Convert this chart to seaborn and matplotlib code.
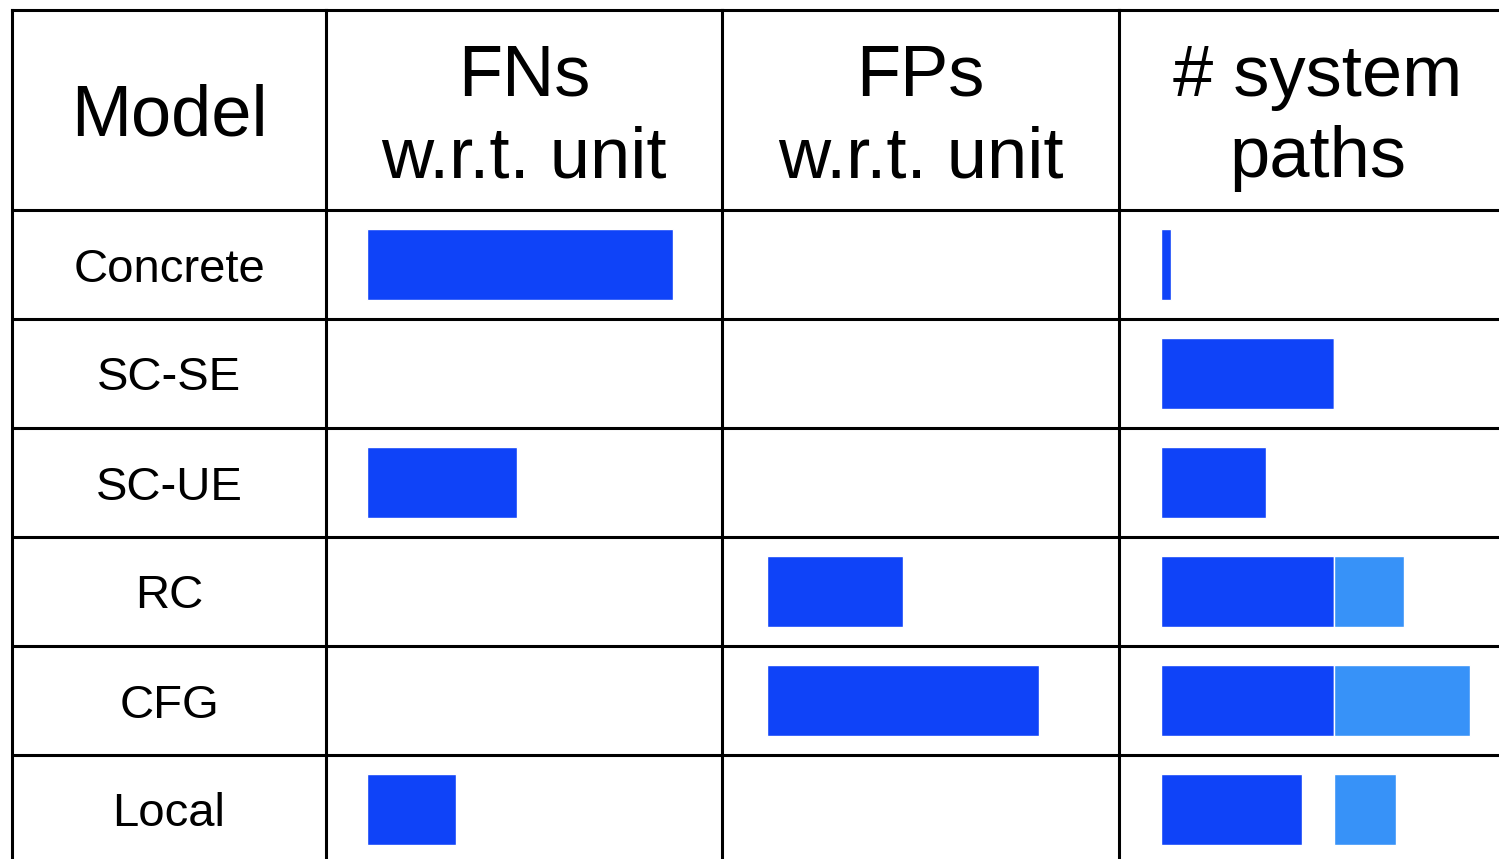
import numpy as np
import pandas as pd
import matplotlib
matplotlib.use("Agg")
import matplotlib.pyplot as plt
import seaborn as sns

# table data
models = ["Concrete", "SC-SE", "SC-UE", "RC", "CFG", "Local"]
fns = [100, 0, 49, 0, 0, 29]
fps = [0, 0, 0, 50, 100, 0]
paths_main = [6, 100, 61, 100, 100, 82]
paths_extra = [0, 0, 0, 41, 79, 36]
extra_start = 100
headers = ["Model", "FNs\nw.r.t. unit", "FPs\nw.r.t. unit", "# system\npaths"]

dark = "#0f43f8"
light = "#3792f8"
lw = 2.2

sns.set_theme(style="white")
plt.rcParams["font.family"] = ["Liberation Sans", "DejaVu Sans"]
plt.rcParams["text.color"] = "black"

df = pd.DataFrame({"model": models, "fns": fns, "fps": fps,
                   "main": paths_main, "extra": paths_extra})

W, H = 1499, 859
fig = plt.figure(figsize=(W / 100, H / 100), dpi=100)
fig.patch.set_facecolor("white")

bottom = (H - 864) / H
height = 854 / H
cols = [(12, 314), (326, 396), (722, 397), (1119, 397)]
axes = [fig.add_axes([x / W, bottom, w / W, height]) for x, w in cols]

ytop = -0.5 - 200 / 109

# model column
ax0 = axes[0]
ax0.set_xlim(0, 1)
for i, m in enumerate(models):
    ax0.text(0.5, i, m, ha="center", va="center_baseline", fontsize=34)

# metric columns
sns.barplot(data=df, x="fns", y="model", orient="h", color=dark,
            saturation=1, width=0.66, ax=axes[1])
axes[1].set_xlim(-13.4, 116)

sns.barplot(data=df, x="fps", y="model", orient="h", color=dark,
            saturation=1, width=0.66, ax=axes[2])
axes[2].set_xlim(-16.4, 129.5)

sns.barplot(data=df, x="main", y="model", orient="h", color=dark,
            saturation=1, width=0.66, ax=axes[3])
ypos = np.arange(len(models))
axes[3].barh(ypos, df["extra"], left=extra_start, height=0.66, color=light)
axes[3].set_xlim(-24.0, 205.5)

for ax, head in zip(axes, headers):
    ax.set_ylim(5.5, ytop)
    ax.set_xticks([])
    ax.set_yticks([])
    ax.set_xlabel("")
    ax.set_ylabel("")
    ax.set_facecolor("none")
    x0, x1 = ax.get_xlim()
    # baseline of the last header line inside the header row
    yb = ytop + (126 if "\n" not in head else 167) / 109
    ax.text((x0 + x1) / 2, yb, head, ha="center", va="baseline",
            fontsize=52, linespacing=1.27)
    for yl in np.arange(-0.5, 5.6, 1.0):
        ax.axhline(yl, color="black", lw=lw)
    for side in ["left", "top"]:
        ax.spines[side].set_visible(True)
        ax.spines[side].set_color("black")
        ax.spines[side].set_linewidth(lw)
    ax.spines["right"].set_visible(ax is axes[-1])
    ax.spines["right"].set_color("black")
    ax.spines["right"].set_linewidth(lw)
    ax.spines["bottom"].set_visible(False)

fig.savefig("out.png", dpi=100)
